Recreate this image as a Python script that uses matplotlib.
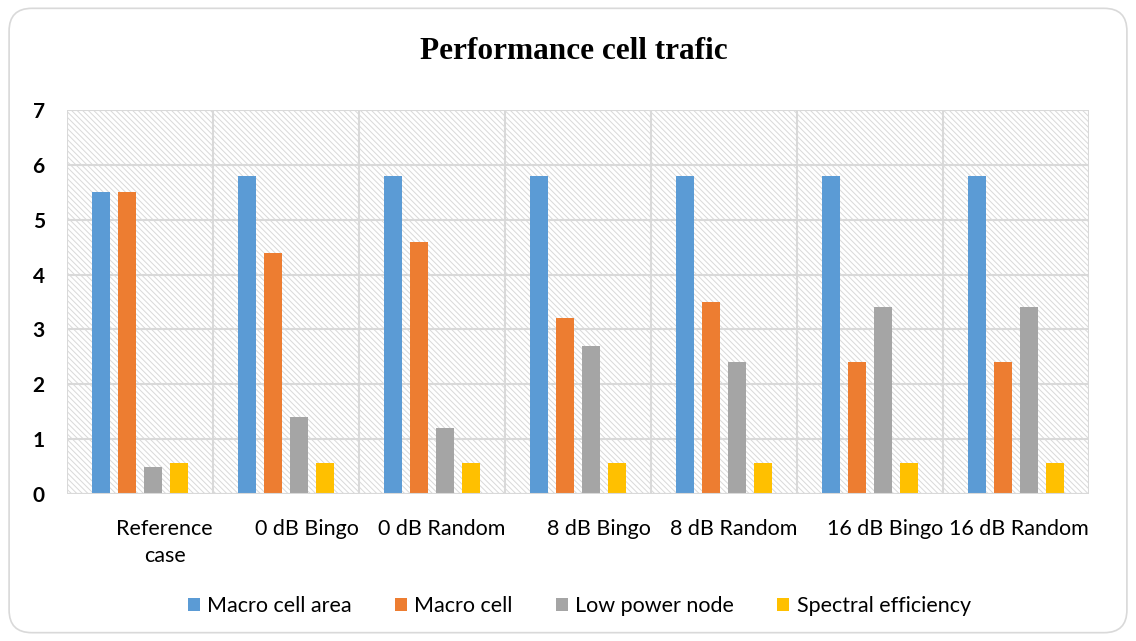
import numpy as np
import matplotlib
matplotlib.use("Agg")
from matplotlib import pyplot as plt
from matplotlib.patches import FancyBboxPatch, Rectangle

# chart data
categories = ["Reference\ncase", "0 dB Bingo", "0 dB Random", "8 dB Bingo",
              "8 dB Random", "16 dB Bingo", "16 dB Random"]
macro_cell_area = [5.5, 5.8, 5.8, 5.8, 5.8, 5.8, 5.8]
macro_cell = [5.5, 4.4, 4.6, 3.2, 3.5, 2.4, 2.4]
low_power_node = [0.5, 1.4, 1.2, 2.7, 2.4, 3.4, 3.4]
spectral_efficiency = [0.56, 0.57, 0.57, 0.57, 0.57, 0.57, 0.57]

series_names = ["Macro cell area", "Macro cell", "Low power node", "Spectral efficiency"]
series_colors = ["#5b9bd5", "#ed7d31", "#a5a5a5", "#ffc000"]

plt.rcParams['hatch.linewidth'] = 0.7

fig = plt.figure(figsize=(11.36, 6.41), dpi=100)
border = FancyBboxPatch((0.008, 0.013), 0.984, 0.974, boxstyle="round,pad=0,rounding_size=0.02",
                        transform=fig.transFigure, facecolor='none', edgecolor='#d9d9d9',
                        linewidth=1.2, mutation_aspect=1136/641, zorder=-1)
fig.patches.append(border)

ax = fig.add_axes([0.059, 0.2293, 0.8997, 0.5991])
# diagonal hatch over the plot area
ax.add_patch(Rectangle((0, 0), 1, 1, transform=ax.transAxes, facecolor='none',
                       edgecolor='#d9d9d9', hatch='\\\\\\\\\\\\', linewidth=0, zorder=0))

n = len(categories)
x = np.arange(n)
width = 0.123
step = 0.178
all_series = [macro_cell_area, macro_cell, low_power_node, spectral_efficiency]
for i, vals in enumerate(all_series):
    ax.bar(x + (i - 1.5) * step, vals, width, color=series_colors[i],
           label=series_names[i], zorder=3)

ax.set_xlim(-0.5, n - 0.5)
ax.set_ylim(0, 7)
ax.set_yticks(range(8))
ax.set_yticklabels([str(v) for v in range(8)], fontweight='bold', fontsize=15,
                   family='Lato')
# labels sit right-aligned against the category's right boundary
ax.set_xticks(np.arange(-0.5, n))
ax.set_xticklabels([''] + categories, fontsize=15.5, family='Lato', linespacing=1.45,
                   ha='right', multialignment='center')
ax.tick_params(axis='both', which='both', length=0)
ax.tick_params(axis='x', pad=18)
ax.tick_params(axis='y', pad=16)

ax.grid(axis='both', color='#d9d9d9', linewidth=1.5, zorder=1)
ax.set_axisbelow(True)
for s in ax.spines.values():
    s.set_visible(False)
ax.axhline(0, color='#d9d9d9', linewidth=1.5, zorder=4)

fig.text(0.505, 0.92, "Performance cell trafic", ha='center', va='center',
         fontsize=22.5, fontweight='bold', family='Liberation Serif')

fig.legend(loc='center', bbox_to_anchor=(0.51, 0.055), ncol=4, frameon=False,
           prop={'family': 'Lato', 'size': 15.5}, handlelength=0.55, handleheight=0.55,
           handletextpad=0.35, columnspacing=2.0)

fig.savefig("out.png", dpi=100)
